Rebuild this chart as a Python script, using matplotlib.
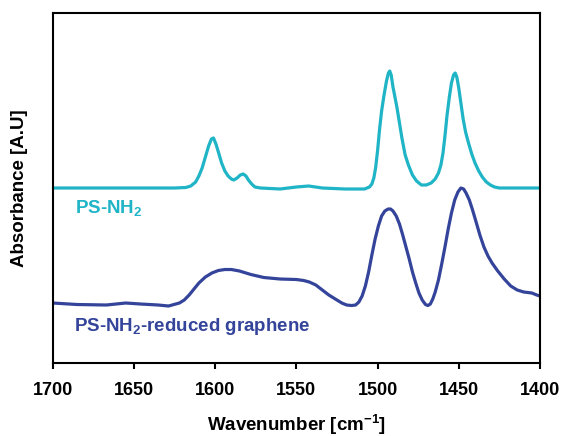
import matplotlib
matplotlib.use("Agg")
import matplotlib.pyplot as plt

# PS-NH2 spectrum (wavenumber, absorbance a.u.)
ps_wn = [1700, 1660, 1625, 1618, 1615, 1612, 1610, 1608, 1606, 1604,
         1602.3, 1601, 1599.5, 1598, 1596, 1594, 1592, 1590, 1588.5, 1586.5,
         1584.5, 1582.7, 1581, 1579.5, 1577.5, 1575.5, 1572, 1560, 1550, 1542.4,
         1534, 1520, 1508, 1505, 1503.5, 1502.3, 1501.2, 1500, 1498.8, 1497.5,
         1496, 1494.5, 1493.3, 1492.5, 1491.6, 1490.5, 1489.3, 1488, 1486.5, 1485,
         1483, 1481, 1478.5, 1476, 1473, 1470, 1467, 1464.5, 1462.5, 1461,
         1459.7, 1458.5, 1457.2, 1455.8, 1454.5, 1453.2, 1452.2, 1451.2, 1450, 1448.7,
         1447.3, 1445.8, 1444, 1442, 1440, 1437.7, 1435.5, 1433, 1430.5, 1428,
         1425, 1415, 1400]
ps_abs = [1.75, 1.75, 1.75, 1.755, 1.77, 1.81, 1.87, 1.95, 2.06, 2.17,
          2.24, 2.25, 2.19, 2.11, 2.00, 1.92, 1.87, 1.84, 1.83, 1.85,
          1.88, 1.89, 1.87, 1.83, 1.79, 1.76, 1.75, 1.74, 1.76, 1.77,
          1.75, 1.74, 1.74, 1.76, 1.79, 1.85, 1.95, 2.12, 2.33, 2.52,
          2.68, 2.82, 2.90, 2.92, 2.88, 2.76, 2.66, 2.55, 2.40, 2.25,
          2.08, 1.98, 1.88, 1.82, 1.78, 1.78, 1.80, 1.84, 1.90, 1.98,
          2.10, 2.27, 2.48, 2.66, 2.80, 2.88, 2.90, 2.86, 2.75, 2.60,
          2.44, 2.31, 2.20, 2.09, 2.00, 1.92, 1.86, 1.81, 1.78, 1.76,
          1.75, 1.75, 1.75]

# PS-NH2-reduced graphene spectrum
rg_wn = [1700, 1685, 1667, 1655, 1646, 1635, 1628.7, 1622, 1619, 1616,
         1613, 1610, 1606, 1602, 1598, 1594, 1590, 1585, 1578, 1570,
         1560, 1550, 1545.5, 1542, 1538, 1534, 1530, 1526, 1522, 1519,
         1516, 1513.5, 1511.5, 1509.5, 1507.5, 1505.5, 1503.5, 1501.5, 1499.5, 1497.5,
         1495.5, 1493.5, 1492, 1490.5, 1488.5, 1486.5, 1484.5, 1482.5, 1480.5, 1478.5,
         1476.5, 1474.5, 1472.5, 1470.5, 1469, 1467.5, 1466, 1464.5, 1462.5, 1460.5,
         1458.5, 1456.5, 1454.5, 1452.5, 1450.5, 1448.7, 1447, 1445.5, 1443.5, 1441.5,
         1439.5, 1437, 1434.5, 1432, 1429.5, 1426, 1422, 1418, 1414, 1410,
         1405, 1402, 1400]
rg_abs = [0.60, 0.585, 0.58, 0.60, 0.59, 0.58, 0.57, 0.60, 0.63, 0.68,
          0.74, 0.80, 0.86, 0.90, 0.925, 0.935, 0.935, 0.92, 0.885, 0.855,
          0.84, 0.835, 0.825, 0.81, 0.78, 0.73, 0.68, 0.64, 0.60, 0.58,
          0.575, 0.58, 0.61, 0.67, 0.77, 0.91, 1.08, 1.24, 1.37, 1.47,
          1.52, 1.54, 1.54, 1.52, 1.47, 1.39, 1.28, 1.16, 1.04, 0.91,
          0.80, 0.70, 0.63, 0.585, 0.575, 0.59, 0.64, 0.71, 0.83, 0.99,
          1.16, 1.34, 1.50, 1.63, 1.71, 1.75, 1.74, 1.70, 1.63, 1.53,
          1.42, 1.28, 1.16, 1.07, 1.00, 0.92, 0.84, 0.77, 0.73, 0.71,
          0.70, 0.68, 0.67]

x_ticks = [1700, 1650, 1600, 1550, 1500, 1450, 1400]

cyan = "#1fb4c6"
navy = "#34449a"

plt.rcParams["font.family"] = ["Liberation Sans", "DejaVu Sans"]
plt.rcParams["font.weight"] = "bold"
plt.rcParams["mathtext.fontset"] = "custom"
plt.rcParams["mathtext.rm"] = "Liberation Sans:bold"
plt.rcParams["mathtext.default"] = "rm"

fig = plt.figure(figsize=(5.63, 4.36), dpi=100)
ax = fig.add_axes([0.0936, 0.1674, 0.8655, 0.8028])

ax.plot(ps_wn, ps_abs, color=cyan, lw=2.3, solid_joinstyle="round")
ax.plot(rg_wn, rg_abs, color=navy, lw=2.3, solid_joinstyle="round")

ax.text(1686.3, 1.55, "PS-NH$_2$", color=cyan, fontsize=13.5,
        fontweight="bold", ha="left", va="center")
ax.text(1687, 0.37, "PS-NH$_2$-reduced graphene", color=navy, fontsize=13.5,
        fontweight="bold", ha="left", va="center")

ax.set_xlim(1700, 1400)
ax.set_ylim(0, 3.5)
ax.set_xticks(x_ticks)
ax.set_xticklabels([str(t) for t in x_ticks])
ax.set_yticks([])

for s in ax.spines.values():
    s.set_linewidth(1.5)

ax.tick_params(axis="x", direction="out", length=4.5, width=1.5,
               labelsize=13, pad=9)
ax.set_xlabel("Wavenumber [cm$^{-1}$]", fontsize=13.5, fontweight="bold",
              labelpad=10)
ax.set_ylabel("Absorbance [A.U]", fontsize=13.5, fontweight="bold")
ax.yaxis.set_label_coords(-0.05, 0.5)

fig.savefig("out.png", dpi=100)
